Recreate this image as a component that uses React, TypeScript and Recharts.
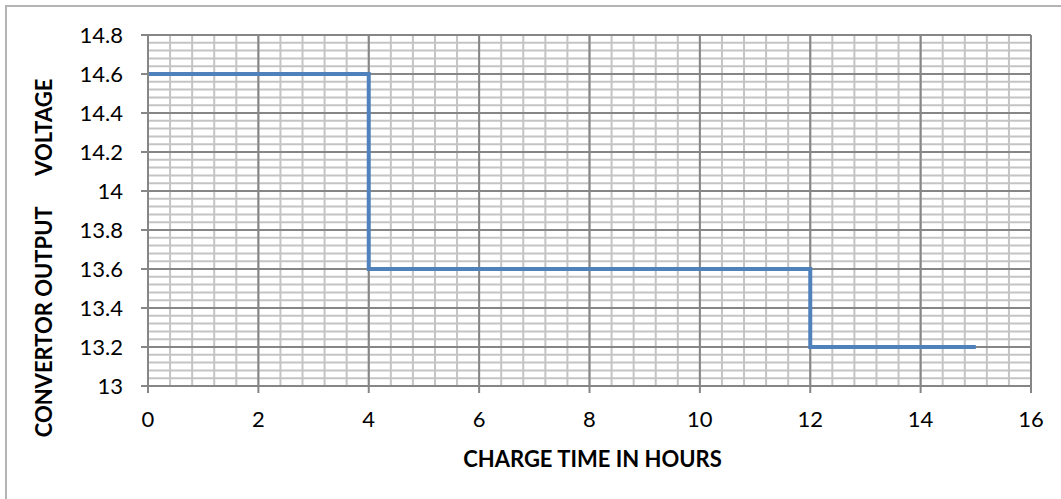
import { CartesianGrid, Label, Line, LineChart, XAxis, YAxis } from "recharts";

// charge profile: voltage holds until the next breakpoint
const hours = [0, 4, 12, 15];
const volts = [14.6, 13.6, 13.2, 13.2];

const xTicks = [0, 2, 4, 6, 8, 10, 12, 14, 16];
const yTicks = [13, 13.2, 13.4, 13.6, 13.8, 14, 14.2, 14.4, 14.6, 14.8];

// minor gridlines: 5 divisions per major step
const xMinor = Array.from({ length: 41 }, (_, i) => +(i * 0.4).toFixed(2));
const yMinor = Array.from({ length: 46 }, (_, i) => +(13 + i * 0.04).toFixed(2));

const data = hours.map((h, i) => ({ h, v: volts[i] }));

const FONT = "Lato, 'Open Sans', sans-serif";
const AXIS = "#868686";

export default function App() {
  return (
    <div style={{ position: "absolute", left: 0, top: 0, width: 1061, height: 499, background: "#fff", overflow: "hidden" }}>
      <div
        style={{
          position: "absolute",
          left: 5,
          top: 5,
          width: 1070,
          height: 510,
          border: "2px solid #b4b4b4",
        }}
      />
      <LineChart
        width={1061}
        height={499}
        data={data}
        margin={{ top: 35, right: 30, bottom: 0, left: 0 }}
        style={{ position: "absolute", left: 0, top: 0, fontFamily: FONT }}
      >
        <XAxis xAxisId="minor" type="number" dataKey="h" domain={[0, 16]} ticks={xMinor} interval={0} hide />
        <YAxis
          yAxisId="minor"
          type="number"
          dataKey="v"
          domain={[13, 14.8]}
          allowDataOverflow
          ticks={yMinor}
          interval={0}
          hide
        />
        <CartesianGrid xAxisId="minor" yAxisId="minor" stroke="#c4c4c4" strokeWidth={2} />
        <CartesianGrid stroke={AXIS} strokeWidth={2} />
        <XAxis
          type="number"
          dataKey="h"
          domain={[0, 16]}
          ticks={xTicks}
          interval={0}
          height={113}
          tickSize={7}
          tickMargin={18}
          axisLine={{ stroke: AXIS, strokeWidth: 2 }}
          tickLine={{ stroke: AXIS, strokeWidth: 2 }}
          tick={{ fill: "#000", fontSize: 22, fontFamily: FONT }}
        >
          <Label
            content={({ viewBox }: any) => (
              <text
                x={viewBox.x + viewBox.width / 2 + 3}
                y={467}
                textAnchor="middle"
                fontFamily={FONT}
                fontWeight="bold"
                fontSize={22}
                fill="#000"
              >
                CHARGE TIME IN HOURS
              </text>
            )}
          />
        </XAxis>
        <YAxis
          type="number"
          dataKey="v"
          domain={[13, 14.8]}
          ticks={yTicks}
          interval={0}
          width={148}
          tickSize={7}
          tickMargin={18}
          axisLine={{ stroke: AXIS, strokeWidth: 2 }}
          tickLine={{ stroke: AXIS, strokeWidth: 2 }}
          tick={{ fill: "#000", fontSize: 22, fontFamily: FONT }}
        >
          <Label
            content={() => (
              <text
                x={52}
                y={258}
                transform="rotate(-90, 52, 258)"
                textAnchor="middle"
                fontFamily={FONT}
                fontWeight="bold"
                fontSize={22}
                fill="#000"
                style={{ whiteSpace: "pre" }}
              >
                {"CONVERTOR OUTPUT      VOLTAGE"}
              </text>
            )}
          />
        </YAxis>
        <Line
          type="stepAfter"
          dataKey="v"
          stroke="#4f81bd"
          strokeWidth={4}
          dot={false}
          activeDot={false}
          isAnimationActive={false}
        />
      </LineChart>
    </div>
  );
}
